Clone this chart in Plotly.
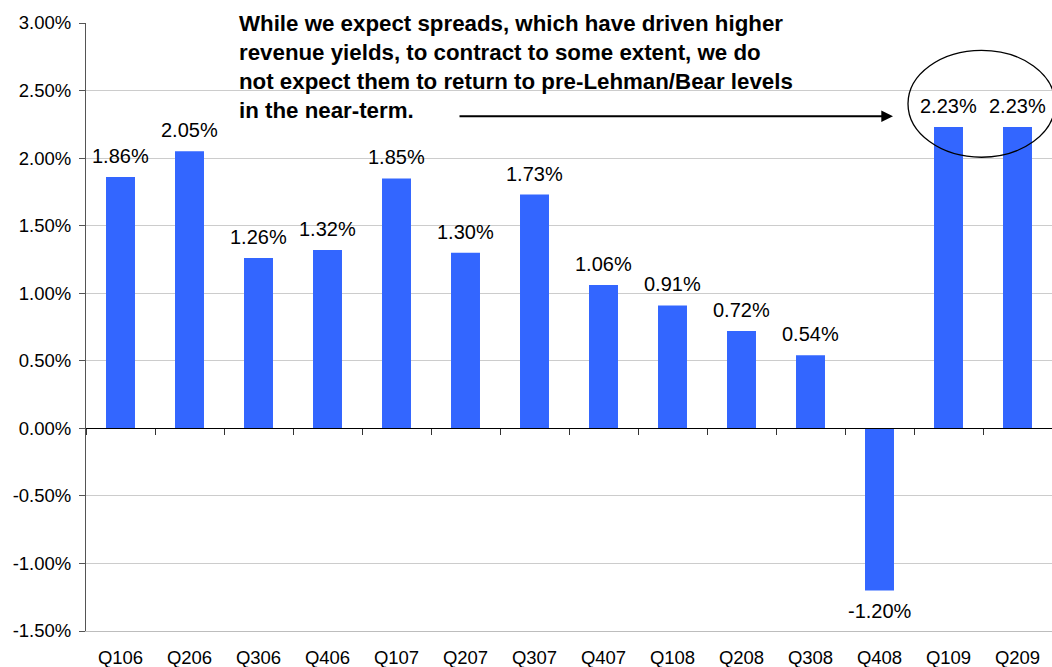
import plotly.graph_objects as go
import numpy as np

quarters = ["Q106", "Q206", "Q306", "Q406", "Q107", "Q207", "Q307", "Q407",
            "Q108", "Q208", "Q308", "Q408", "Q109", "Q209"]
yields = [1.86, 2.05, 1.26, 1.32, 1.85, 1.30, 1.73, 1.06,
          0.91, 0.72, 0.54, -1.20, 2.23, 2.23]
y_ticks = [3.0, 2.5, 2.0, 1.5, 1.0, 0.5, 0.0, -0.5, -1.0, -1.5]
note = ("While we expect spreads, which have driven higher<br>"
        "revenue yields, to contract to some extent, we do<br>"
        "not expect them to return to pre-Lehman/Bear levels<br>"
        "in the near-term.")

FONT = "Liberation Sans, Arial, sans-serif"
BLUE = "#3366FF"

fig = go.Figure()
fig.add_trace(go.Bar(x=quarters, y=yields, marker_color=BLUE,
                     marker_line_width=0, hoverinfo="skip", showlegend=False))
# invisible helper trace for the zero-line axis with boundary ticks
fig.add_trace(go.Scatter(x=[None], y=[None], xaxis="x2", yaxis="y",
                         showlegend=False, hoverinfo="skip"))

ymin, ymax = min(y_ticks), max(y_ticks)
zero_pos = (0 - ymin) / (ymax - ymin)

fig.update_layout(
    width=1052, height=667,
    margin=dict(l=86, r=0, t=23, b=36),
    paper_bgcolor="white", plot_bgcolor="white",
    bargap=0.58,
    font=dict(family=FONT, color="black"),
    xaxis=dict(type="category", showgrid=False, showline=True,
               linecolor="#bdbdbd", linewidth=1,
               ticks="outside", ticklen=10, tickcolor="rgba(0,0,0,0)",
               tickfont=dict(size=18.5, family=FONT, color="black"),
               zeroline=False),
    xaxis2=dict(overlaying="x", anchor="free", position=zero_pos,
                range=[-0.5, len(quarters) - 0.5],
                tickvals=list(np.arange(len(quarters) + 1) - 0.5),
                showticklabels=False, ticks="outside", ticklen=6,
                tickcolor="#333", showline=True, linecolor="black",
                linewidth=1, showgrid=False, zeroline=False),
    yaxis=dict(range=[ymin, ymax], tickvals=y_ticks,
               ticktext=[f"{v:.2f}%" for v in y_ticks],
               showgrid=True, gridcolor="#cccccc", gridwidth=1,
               showline=True, linecolor="#555", linewidth=1,
               ticks="outside", ticklen=6, tickcolor="#555",
               ticklabelstandoff=4,
               tickfont=dict(size=18.5, family=FONT, color="black"),
               zeroline=False),
)

annotations = []
for q, v in zip(quarters, yields):
    annotations.append(dict(
        x=q, y=v, xref="x", yref="y", text=f"{v:.2f}%", showarrow=False,
        yanchor="bottom" if v >= 0 else "top",
        yshift=8 if v >= 0 else -8,
        font=dict(size=20, family=FONT, color="black")))

# explanatory note
annotations.append(dict(
    x=0.156, y=1.023, xref="paper", yref="paper", xanchor="left", yanchor="top",
    text=note, showarrow=False, align="left",
    font=dict(size=22.3, family=FONT, color="black", weight="bold")))

# arrow pointing to the latest quarters
annotations.append(dict(
    x=(893 - 86) / 966, y=(631 - 116) / 608.3, xref="paper", yref="paper",
    ax=-435, ay=0, axref="pixel", ayref="pixel", text="", showarrow=True,
    arrowhead=2, arrowsize=1.3, arrowwidth=1.8, arrowcolor="black"))

fig.update_layout(annotations=annotations)

fig.add_shape(type="circle", xref="paper", yref="paper",
              x0=(908 - 86) / 966, x1=(1055 - 86) / 966,
              y0=(631 - 157) / 608.3, y1=(631 - 50) / 608.3,
              line=dict(color="black", width=1.3), fillcolor="rgba(0,0,0,0)")

fig.write_html("out.html")
